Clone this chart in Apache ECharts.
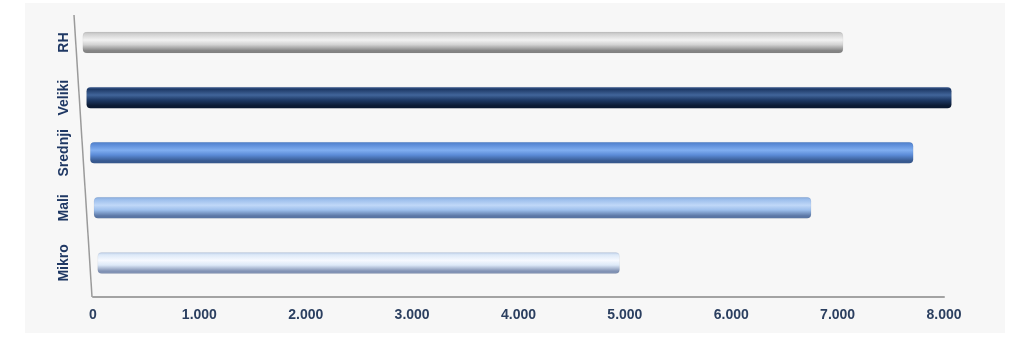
<!DOCTYPE html>
<html>
<head>
<meta charset="utf-8">
<script src="https://cdn.jsdelivr.net/npm/echarts@6/dist/echarts.min.js"></script>
<style>html,body{margin:0;padding:0;background:#fff;}#c{width:1024px;height:361px;}</style>
</head>
<body>
<div id="c"></div>
<script>
// Data
const categories = ['Mikro', 'Mali', 'Srednji', 'Veliki', 'RH'];
const values = [4950, 6750, 7710, 8070, 7050];
const xTicks = [0, 1000, 2000, 3000, 4000, 5000, 6000, 7000, 8000];

// Styles (cylinder shading: top, highlight, body, bottom)
const palettes = [
  ['#b4c6e2', '#f6f9ff', '#dde9f8', '#8192b4'],
  ['#88aadc', '#c0d8f8', '#9dbfec', '#5a76a4'],
  ['#4e7ec6', '#80aef0', '#5c8cd8', '#37598f'],
  ['#3a5a90', '#41659a', '#1f3b68', '#0b1a33'],
  ['#bdbdbd', '#f2f2f2', '#d2d2d2', '#848484']
];
const AXIS_OFFSET = 6.5;
const SLANT = 0.0674;

function fmt(v) {
  return String(v).replace(/\B(?=(\d{3})+(?!\d))/g, '.');
}

const chart = echarts.init(document.getElementById('c'), null, {renderer: 'canvas'});
const barData = values.map((v, i) => [v, i]);

chart.setOption({
  backgroundColor: '#ffffff',
  animation: false,
  graphic: [{
    type: 'rect', left: 25, top: 3, z: -10,
    shape: {width: 980, height: 330},
    style: {fill: '#f7f7f7'}
  }],
  grid: {left: 93, right: 80, top: 15, bottom: 70.5},
  xAxis: {
    type: 'value', min: 0, max: 8000, interval: 1000,
    offset: AXIS_OFFSET,
    axisLine: {show: true, lineStyle: {color: '#a3a3a3', width: 2}},
    axisTick: {show: false},
    splitLine: {show: false},
    axisLabel: {
      margin: 11,
      color: '#2b3f60', fontWeight: 'bold', fontSize: 14,
      fontFamily: '"Liberation Sans Narrow", "Liberation Sans", sans-serif',
      formatter: fmt
    }
  },
  yAxis: {
    type: 'category', data: categories,
    axisLine: {show: false}, axisTick: {show: false},
    axisLabel: {
      interval: 0,
      rotate: 90, margin: 22,
      color: '#1f3864', fontWeight: 'bold', fontSize: 14,
      fontFamily: '"Liberation Sans", Arial, sans-serif'
    }
  },
  series: [{
    type: 'custom',
    data: barData,
    encode: {x: 0, y: 1},
    renderItem: function (params, api) {
      const idx = api.value(1);
      const val = api.value(0);
      const start = api.coord([0, idx]);
      const end = api.coord([val, idx]);
      const cs = params.coordSys;
      const bottomY = cs.y + cs.height + AXIS_OFFSET;
      const x0 = start[0] - (bottomY - start[1]) * SLANT + 7;
      const h = 21;
      const p = palettes[idx];
      return {
        type: 'rect',
        shape: {x: x0, y: start[1] - h / 2, width: end[0] - x0, height: h, r: 4},
        style: {
          fill: new echarts.graphic.LinearGradient(0, 0, 0, 1, [
            {offset: 0, color: p[0]},
            {offset: 0.12, color: p[2]},
            {offset: 0.38, color: p[1]},
            {offset: 0.6, color: p[2]},
            {offset: 0.88, color: p[3]},
            {offset: 1, color: p[3]}
          ]),
          stroke: 'rgba(0,0,0,0.08)', lineWidth: 0.5
        }
      };
    }
  }, {
    type: 'custom',
    data: [[0, 0]],
    encode: {x: 0, y: 1},
    silent: true,
    renderItem: function (params, api) {
      const cs = params.coordSys;
      const bottomY = cs.y + cs.height + AXIS_OFFSET;
      return {
        type: 'line',
        shape: {x1: cs.x - (bottomY - cs.y) * SLANT, y1: cs.y, x2: cs.x - 1, y2: bottomY},
        style: {stroke: '#9a9a9a', lineWidth: 1.5}
      };
    }
  }]
});
</script>
</body>
</html>
